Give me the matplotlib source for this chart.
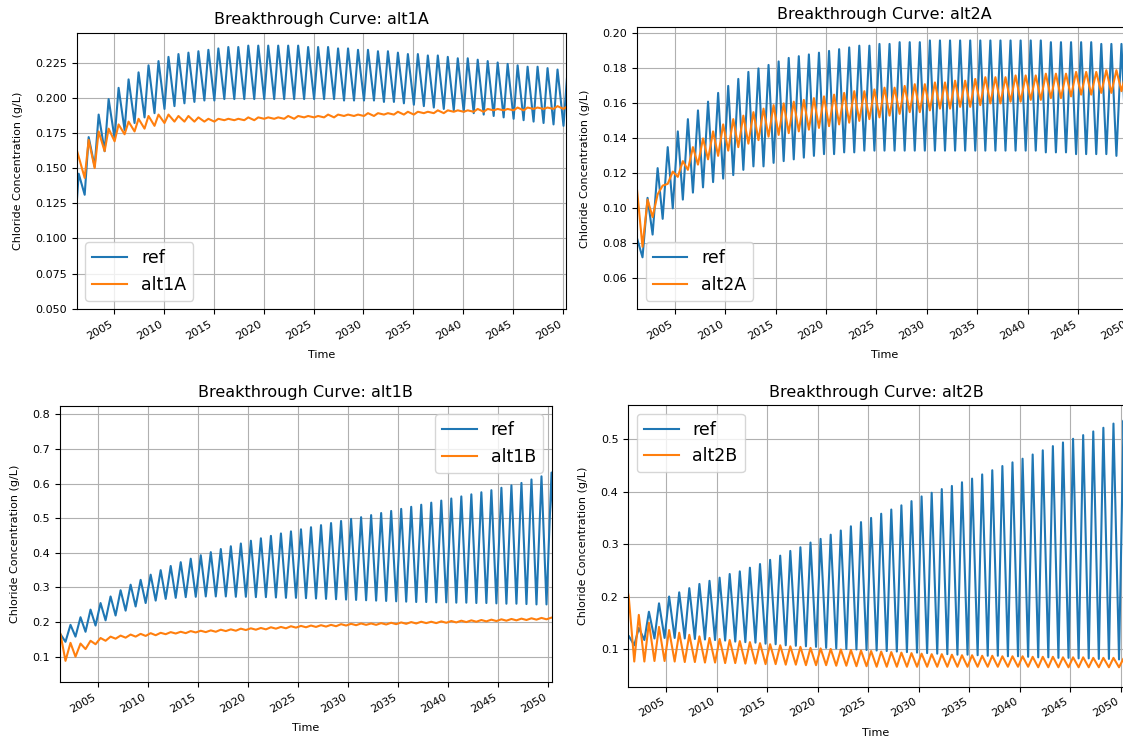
import numpy as np
import matplotlib.pyplot as plt

# annual values: one "hi" and one "lo" value per year
years = np.arange(2001, 2051)
t_start, t_end = 2001.25, 2050.3

# --- alt1A panel ---
ref_1A_start = 0.125
ref_1A_hi = [0.146, 0.172, 0.188, 0.199, 0.207, 0.213, 0.218, 0.223, 0.226, 0.229,
             0.231, 0.232, 0.233, 0.234, 0.235, 0.236, 0.236, 0.237, 0.237, 0.237,
             0.237, 0.237, 0.237, 0.236, 0.236, 0.236, 0.235, 0.235, 0.234, 0.234,
             0.233, 0.233, 0.232, 0.231, 0.231, 0.230, 0.230, 0.229, 0.228, 0.228,
             0.227, 0.226, 0.225, 0.224, 0.223, 0.222, 0.222, 0.221, 0.220, 0.219]
ref_1A_lo = [0.125, 0.131, 0.151, 0.162, 0.171, 0.177, 0.182, 0.186, 0.189, 0.192,
             0.194, 0.196, 0.197, 0.198, 0.198, 0.199, 0.199, 0.199, 0.199, 0.199,
             0.199, 0.199, 0.199, 0.199, 0.199, 0.199, 0.199, 0.198, 0.198, 0.198,
             0.198, 0.197, 0.197, 0.196, 0.195, 0.194, 0.193, 0.192, 0.191, 0.190,
             0.189, 0.188, 0.187, 0.186, 0.185, 0.184, 0.183, 0.182, 0.181, 0.180]
alt_1A_start = 0.163
alt_1A_hi = [0.158, 0.170, 0.176, 0.178, 0.181, 0.183, 0.185, 0.187, 0.188, 0.188,
             0.187, 0.187, 0.186, 0.185, 0.185, 0.185, 0.185, 0.186, 0.186, 0.186,
             0.186, 0.187, 0.187, 0.187, 0.187, 0.188, 0.188, 0.188, 0.188, 0.189,
             0.189, 0.189, 0.190, 0.190, 0.190, 0.190, 0.191, 0.191, 0.191, 0.191,
             0.192, 0.192, 0.192, 0.192, 0.193, 0.193, 0.193, 0.193, 0.194, 0.194]
alt_1A_lo = [0.163, 0.143, 0.150, 0.162, 0.169, 0.174, 0.176, 0.178, 0.180, 0.182,
             0.183, 0.183, 0.183, 0.183, 0.183, 0.184, 0.184, 0.184, 0.184, 0.185,
             0.185, 0.185, 0.185, 0.186, 0.186, 0.186, 0.186, 0.187, 0.187, 0.187,
             0.187, 0.188, 0.188, 0.188, 0.188, 0.189, 0.189, 0.189, 0.190, 0.190,
             0.190, 0.190, 0.191, 0.191, 0.191, 0.191, 0.192, 0.192, 0.192, 0.192]

# --- alt2A panel ---
ref_2A_start = 0.083
ref_2A_hi = [0.082, 0.106, 0.123, 0.135, 0.144, 0.151, 0.156, 0.161, 0.166, 0.170,
             0.174, 0.178, 0.180, 0.182, 0.184, 0.186, 0.187, 0.188, 0.189, 0.190,
             0.191, 0.192, 0.193, 0.193, 0.194, 0.194, 0.195, 0.195, 0.195, 0.196,
             0.196, 0.196, 0.196, 0.196, 0.196, 0.196, 0.196, 0.196, 0.196, 0.196,
             0.196, 0.195, 0.195, 0.195, 0.195, 0.195, 0.194, 0.194, 0.194, 0.194]
ref_2A_lo = [0.072, 0.085, 0.094, 0.100, 0.105, 0.109, 0.112, 0.115, 0.117, 0.119,
             0.122, 0.124, 0.124, 0.126, 0.127, 0.128, 0.129, 0.130, 0.131, 0.131,
             0.132, 0.132, 0.133, 0.133, 0.133, 0.133, 0.133, 0.133, 0.133, 0.133,
             0.133, 0.133, 0.133, 0.133, 0.133, 0.133, 0.133, 0.133, 0.133, 0.133,
             0.132, 0.132, 0.132, 0.131, 0.131, 0.131, 0.131, 0.130, 0.130, 0.130]
alt_2A_start = 0.111
alt_2A_hi = [0.078, 0.095, 0.113, 0.121, 0.127, 0.135, 0.140, 0.144, 0.148, 0.151,
             0.153, 0.155, 0.157, 0.159, 0.160, 0.161, 0.162, 0.163, 0.164, 0.165,
             0.166, 0.167, 0.167, 0.168, 0.169, 0.169, 0.170, 0.171, 0.171, 0.172,
             0.172, 0.173, 0.173, 0.174, 0.175, 0.175, 0.175, 0.176, 0.176, 0.176,
             0.177, 0.177, 0.177, 0.178, 0.178, 0.178, 0.179, 0.179, 0.179, 0.180]
alt_2A_lo = [0.108, 0.105, 0.108, 0.114, 0.118, 0.122, 0.125, 0.128, 0.130, 0.133,
             0.135, 0.137, 0.139, 0.141, 0.142, 0.143, 0.144, 0.145, 0.146, 0.147,
             0.148, 0.149, 0.150, 0.151, 0.152, 0.153, 0.154, 0.155, 0.155, 0.156,
             0.157, 0.157, 0.158, 0.158, 0.159, 0.160, 0.160, 0.161, 0.161, 0.162,
             0.162, 0.163, 0.163, 0.164, 0.165, 0.165, 0.166, 0.166, 0.167, 0.168]

# --- alt1B panel ---
ref_1B_start = 0.165
ref_1B_hi = [0.165, 0.192, 0.214, 0.236, 0.255, 0.274, 0.292, 0.308, 0.322, 0.337,
             0.350, 0.362, 0.373, 0.383, 0.393, 0.402, 0.411, 0.419, 0.427, 0.435,
             0.442, 0.449, 0.456, 0.462, 0.468, 0.474, 0.480, 0.486, 0.492, 0.498,
             0.503, 0.509, 0.515, 0.521, 0.527, 0.533, 0.539, 0.545, 0.551, 0.557,
             0.563, 0.569, 0.575, 0.581, 0.588, 0.595, 0.602, 0.612, 0.621, 0.632]
ref_1B_lo = [0.143, 0.158, 0.172, 0.190, 0.205, 0.219, 0.233, 0.245, 0.255, 0.262,
             0.267, 0.270, 0.272, 0.273, 0.274, 0.274, 0.274, 0.273, 0.273, 0.272,
             0.272, 0.271, 0.270, 0.270, 0.269, 0.268, 0.267, 0.266, 0.265, 0.264,
             0.263, 0.262, 0.261, 0.260, 0.259, 0.258, 0.258, 0.257, 0.257, 0.256,
             0.256, 0.255, 0.255, 0.254, 0.253, 0.253, 0.252, 0.251, 0.251, 0.250]
alt_1B_start = 0.170
alt_1B_hi = [0.165, 0.140, 0.138, 0.146, 0.154, 0.158, 0.161, 0.164, 0.166, 0.168,
             0.169, 0.171, 0.172, 0.174, 0.175, 0.176, 0.178, 0.179, 0.181, 0.182,
             0.183, 0.185, 0.186, 0.188, 0.189, 0.190, 0.191, 0.192, 0.194, 0.195,
             0.196, 0.196, 0.197, 0.198, 0.199, 0.200, 0.201, 0.201, 0.202, 0.203,
             0.204, 0.205, 0.206, 0.207, 0.208, 0.209, 0.210, 0.211, 0.212, 0.213]
alt_1B_lo = [0.088, 0.100, 0.122, 0.136, 0.146, 0.152, 0.155, 0.158, 0.160, 0.162,
             0.165, 0.167, 0.168, 0.170, 0.171, 0.172, 0.174, 0.175, 0.177, 0.178,
             0.179, 0.181, 0.182, 0.184, 0.185, 0.186, 0.187, 0.188, 0.190, 0.191,
             0.192, 0.192, 0.193, 0.194, 0.195, 0.196, 0.197, 0.197, 0.198, 0.199,
             0.200, 0.201, 0.202, 0.203, 0.204, 0.205, 0.206, 0.207, 0.208, 0.209]

# --- alt2B panel ---
ref_2B_start = 0.125
ref_2B_hi = [0.125, 0.140, 0.171, 0.187, 0.200, 0.208, 0.216, 0.224, 0.230, 0.236,
             0.243, 0.248, 0.255, 0.262, 0.270, 0.278, 0.287, 0.294, 0.303, 0.310,
             0.318, 0.326, 0.334, 0.342, 0.350, 0.358, 0.366, 0.374, 0.382, 0.391,
             0.398, 0.405, 0.411, 0.418, 0.425, 0.433, 0.441, 0.449, 0.456, 0.463,
             0.471, 0.479, 0.487, 0.494, 0.501, 0.508, 0.515, 0.522, 0.530, 0.536]
ref_2B_lo = [0.107, 0.117, 0.120, 0.121, 0.121, 0.120, 0.119, 0.118, 0.117, 0.116,
             0.114, 0.113, 0.112, 0.110, 0.109, 0.107, 0.106, 0.105, 0.104, 0.102,
             0.101, 0.100, 0.099, 0.098, 0.097, 0.096, 0.095, 0.094, 0.093, 0.092,
             0.091, 0.090, 0.089, 0.089, 0.088, 0.087, 0.087, 0.086, 0.086, 0.085,
             0.084, 0.084, 0.083, 0.083, 0.082, 0.082, 0.081, 0.081, 0.080, 0.080]
alt_2B_start = 0.205
alt_2B_hi = [0.200, 0.165, 0.150, 0.142, 0.136, 0.131, 0.127, 0.124, 0.121, 0.119,
             0.117, 0.115, 0.113, 0.111, 0.109, 0.107, 0.105, 0.104, 0.102, 0.101,
             0.100, 0.099, 0.098, 0.097, 0.096, 0.095, 0.094, 0.093, 0.092, 0.091,
             0.090, 0.090, 0.089, 0.088, 0.088, 0.087, 0.087, 0.086, 0.086, 0.086,
             0.085, 0.085, 0.085, 0.084, 0.084, 0.084, 0.083, 0.083, 0.083, 0.082]
alt_2B_lo = [0.076, 0.076, 0.077, 0.077, 0.076, 0.075, 0.075, 0.074, 0.074, 0.073,
             0.073, 0.072, 0.072, 0.071, 0.071, 0.070, 0.070, 0.069, 0.069, 0.069,
             0.068, 0.068, 0.067, 0.067, 0.066, 0.066, 0.066, 0.066, 0.066, 0.066,
             0.066, 0.066, 0.066, 0.066, 0.066, 0.066, 0.066, 0.066, 0.066, 0.066,
             0.065, 0.065, 0.065, 0.065, 0.065, 0.065, 0.065, 0.065, 0.065, 0.065]

# time of year at which the hi / lo values occur (ref, alt)
phase_1A = ((0.45, 0.05), (0.45, 0.05))
phase_2A = ((0.30, 0.80), (0.80, 0.30))
phase_1B = ((0.30, 0.80), (0.30, 0.80))
phase_2B = ((0.30, 0.85), (0.30, 0.85))


def series(start, hi, lo, ph):
    x = np.concatenate([years + ph[0], years + ph[1]])
    y = np.concatenate([hi, lo])
    o = np.argsort(x)
    x, y = x[o], y[o]
    keep = x > t_start
    return np.r_[t_start, x[keep]], np.r_[start, y[keep]]


fig = plt.figure(figsize=(11.23, 7.39), dpi=100)

panels = [
    ('alt1A', [0.0683, 0.5812, 0.4357, 0.3746], (0.0495, 0.2462),
     np.arange(0.05, 0.226, 0.025), '%.3f', 'lower left',
     (ref_1A_start, ref_1A_hi, ref_1A_lo), (alt_1A_start, alt_1A_hi, alt_1A_lo), phase_1A),
    ('alt2A', [0.5672, 0.5815, 0.4404, 0.3813], (0.0423, 0.2034),
     np.arange(0.06, 0.201, 0.02), '%.2f', 'lower left',
     (ref_2A_start, ref_2A_hi, ref_2A_lo), (alt_2A_start, alt_2A_hi, alt_2A_lo), phase_2A),
    ('alt1B', [0.0534, 0.0767, 0.4377, 0.3743], (0.026, 0.825),
     np.arange(0.1, 0.81, 0.1), '%.1f', 'upper right',
     (ref_1B_start, ref_1B_hi, ref_1B_lo), (alt_1B_start, alt_1B_hi, alt_1B_lo), phase_1B),
    ('alt2B', [0.5594, 0.0708, 0.4411, 0.3812], (0.028, 0.5655),
     np.arange(0.1, 0.51, 0.1), '%.1f', 'upper left',
     (ref_2B_start, ref_2B_hi, ref_2B_lo), (alt_2B_start, alt_2B_hi, alt_2B_lo), phase_2B),
]

for name, rect, ylim, yt, fmt, loc, ref, alt, ph in panels:
    ax = fig.add_axes(rect)
    xr, yr = series(*ref, ph[0])
    xa, ya = series(*alt, ph[1])
    ax.plot(xr, yr, color='#1f77b4', lw=1.5, label='ref')
    ax.plot(xa, ya, color='#ff7f0e', lw=1.5, label=name)
    ax.set_xlim(t_start, t_end)
    ax.set_ylim(*ylim)
    ax.set_xticks(np.arange(2005, 2051, 5))
    ax.set_xticklabels([str(y) for y in range(2005, 2051, 5)], rotation=30, ha='right')
    ax.set_yticks(yt)
    ax.set_yticklabels([fmt % v for v in yt])
    ax.tick_params(labelsize=8)
    ax.grid(True)
    ax.set_title('Breakthrough Curve: ' + name, fontsize=11.5)
    ax.set_xlabel('Time', fontsize=8, labelpad=6)
    ax.set_ylabel('Chloride Concentration (g/L)', fontsize=8, labelpad=9)
    ax.legend(loc=loc, fontsize=12.5)

plt.savefig('out.png', dpi=100)
